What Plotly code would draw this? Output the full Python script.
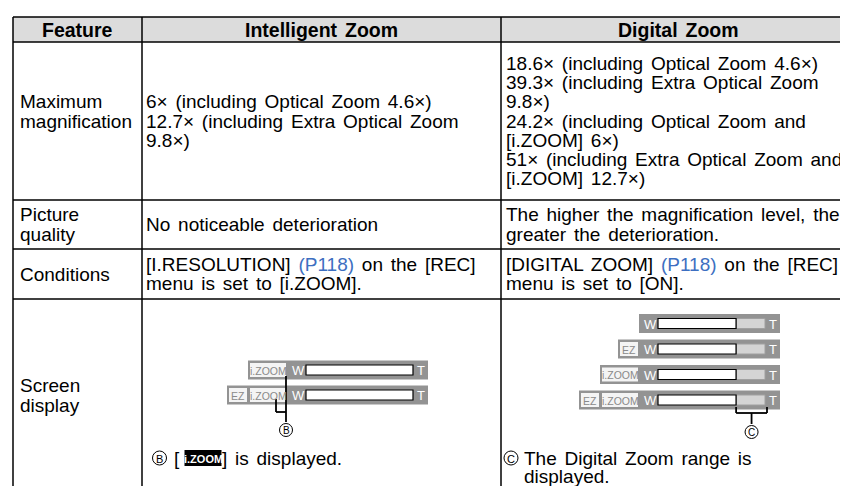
import re
import plotly.graph_objects as go

# ---------------- data ----------------
headers = ["Feature", "Intelligent Zoom", "Digital Zoom"]
features = [["Maximum", "magnification"], ["Picture", "quality"], ["Conditions"], ["Screen", "display"]]
intelligent_text = [
    ["6× (including Optical Zoom 4.6×)", "12.7× (including Extra Optical Zoom", "9.8×)"],
    ["No noticeable deterioration"],
    ["[I.RESOLUTION] {ref} on the [REC]", "menu is set to [i.ZOOM]."],
]
digital_text = [
    ["18.6× (including Optical Zoom 4.6×)", "39.3× (including Extra Optical Zoom", "9.8×)",
     "24.2× (including Optical Zoom and", "[i.ZOOM] 6×)",
     "51× (including Extra Optical Zoom and", "[i.ZOOM] 12.7×)"],
    ["The higher the magnification level, the", "greater the deterioration."],
    ["[DIGITAL ZOOM] {ref} on the [REC]", "menu is set to [ON]."],
]
page_ref = "(P118)"
intelligent_bars = [["i.ZOOM"], ["EZ", "i.ZOOM"]]
digital_bars = [[], ["EZ"], ["i.ZOOM"], ["EZ", "i.ZOOM"]]
digital_range_share = 0.27
marker_b, marker_c = "B", "C"
note_b = ["[", "i.ZOOM", "] is displayed."]
note_c = ["The Digital Zoom range is", "displayed."]

# ---------------- layout constants ----------------
W, H = 848, 486
COL_X = [5, 134, 493, 848]
ROW_Y = [9, 34, 192, 241, 291, 486]
TEXT_X = [12, 137.5, 497.5]
PITCH = 19.3
FS = 19
HFS = 19.5
WS = 2.5
FONT = "Liberation Sans, Arial, DejaVu Sans, sans-serif"
LINK = "#3d6fc1"
STRIP = "#939393"

shapes = []
annotations = []


def fmt(s, bold=False):
    out = []
    for p in re.split(r"(\{ref\})", s):
        if not p:
            continue
        if p == "{ref}":
            out.append(f"<span style='color:{LINK};word-spacing:{WS}px'>{page_ref}</span>")
        else:
            out.append(f"<span style='word-spacing:{WS}px'>{p}</span>")
    res = "".join(out)
    return f"<b>{res}</b>" if bold else res


def txt(x, y, s, size=FS, color="black", xanchor="left", family=FONT):
    annotations.append(dict(x=x, y=y, xref="x", yref="y", text=s, showarrow=False,
                            xanchor=xanchor, yanchor="middle", borderpad=0, borderwidth=0,
                            font=dict(family=family, size=size, color=color)))


def rect(x0, y0, x1, y1, fill=None, line=None, lw=1):
    shapes.append(dict(type="rect", xref="x", yref="y", x0=x0, y0=y0, x1=x1, y1=y1,
                       fillcolor=fill if fill else "rgba(0,0,0,0)",
                       line=dict(color=line if line else "rgba(0,0,0,0)", width=lw if line else 0),
                       layer="above"))


def seg(x0, y0, x1, y1, color="black", w=1.5):
    shapes.append(dict(type="line", xref="x", yref="y", x0=x0, y0=y0, x1=x1, y1=y1,
                       line=dict(color=color, width=w), layer="above"))


def circ(cx, cy, r, letter, size=10):
    shapes.append(dict(type="circle", xref="x", yref="y", x0=cx - r, y0=cy - r, x1=cx + r, y1=cy + r,
                       line=dict(color="black", width=1), fillcolor="white", layer="above"))
    txt(cx, cy + 0.5, letter, size=size, xanchor="center")


# ---------------- table frame ----------------
rect(COL_X[0], ROW_Y[0], W, ROW_Y[1], fill="#dcdcdc")
for y in ROW_Y[:-1]:
    seg(COL_X[0], y, W, y)
for x in COL_X[:-1]:
    seg(x, ROW_Y[0], x, H)

# header
for i, h in enumerate(headers):
    txt((COL_X[i] + COL_X[i + 1]) / 2, (ROW_Y[0] + ROW_Y[1]) / 2 + 0.5, fmt(h, bold=True),
        size=HFS, xanchor="center")


def cell_lines(col, row, lines, shift=0.0):
    yc = (ROW_Y[row + 1] + ROW_Y[row + 2]) / 2 + shift
    n = len(lines)
    for k, s in enumerate(lines):
        txt(TEXT_X[col], yc + (k - (n - 1) / 2) * PITCH, fmt(s))


label_shift = [-PITCH / 2, 0, 0, -1]
for r, lines in enumerate(features):
    cell_lines(0, r, lines, label_shift[r])
for r, lines in enumerate(intelligent_text):
    cell_lines(1, r, lines)
for r, lines in enumerate(digital_text):
    cell_lines(2, r, lines)


# ---------------- zoom bar illustrations ----------------
def zoom_bar(x0, yc, icons, range_share=0.0):
    inner_w = 107
    widths = {"i.ZOOM": 36, "EZ": 18}
    right = x0 - 20
    boxes = []
    for ic in reversed(icons):
        boxes.append((right - widths[ic], right, ic))
        right = right - widths[ic] - 3
    left = min([b[0] for b in boxes], default=x0 - 17) - 2
    rect(left, yc - 9.5, x0 + 122, yc + 9.5, fill=STRIP)
    for bx0, bx1, ic in boxes:
        rect(bx0, yc - 7, bx1, yc + 7, fill="#f4f4f4")
        txt((bx0 + bx1) / 2, yc + 0.5, ic, size=10.5, color="#8a8a8a", xanchor="center")
    txt(x0 - 8, yc + 0.5, "W", size=13, color="white", xanchor="center")
    txt(x0 + 115, yc + 0.5, "T", size=13, color="white", xanchor="center")
    split = x0 + inner_w * (1 - range_share)
    rect(x0, yc - 5, x0 + inner_w, yc + 5, fill="white")
    if range_share > 0:
        rect(split, yc - 5, x0 + inner_w, yc + 5, fill="#d4d4d4", line="#a0a0a0", lw=1)
    rect(x0, yc - 5, split, yc + 5, line="black", lw=1.2)


# intelligent zoom illustration
IX0 = 298
iy = [362, 387]
for yc, icons in zip(iy, intelligent_bars):
    zoom_bar(IX0, yc, icons)
seg(278, iy[0] + 6, 278, 414, w=1.8)
seg(268, iy[1] + 4, 268, 404, w=1.8)
seg(268, 404, 278, 404, w=1.8)
circ(278, 422, 6.5, marker_b)

# digital zoom illustration
DX0 = 650
dy = [315.5, 341, 366.5, 392]
for yc, icons in zip(dy, digital_bars):
    zoom_bar(DX0, yc, icons, digital_range_share)
bx0 = DX0 + 107 * (1 - digital_range_share)
bx1 = DX0 + 109
seg(bx0, 405, bx1, 405, w=1.8)
seg(bx0, 399, bx0, 405, w=1.8)
seg(bx1, 399, bx1, 405, w=1.8)
seg((bx0 + bx1) / 2, 405, (bx0 + bx1) / 2, 416, w=1.8)
circ((bx0 + bx1) / 2, 424, 6.5, marker_c)

# captions
circ(151.5, 450, 7, marker_b, size=11)
txt(166, 450, fmt(note_b[0]))
rect(176.5, 442, 213.5, 458, fill="black")
txt(195, 450.5, f"<b>{note_b[1]}</b>", size=11, color="white", xanchor="center")
txt(214, 450, fmt(note_b[2]))

circ(503, 450, 7, marker_c, size=11)
for k, s in enumerate(note_c):
    txt(516, 450 + k * 18.8, fmt(s))

fig = go.Figure()
fig.update_layout(
    width=W, height=H, margin=dict(l=0, r=0, t=0, b=0),
    paper_bgcolor="white", plot_bgcolor="white",
    xaxis=dict(range=[0, W], visible=False, fixedrange=True),
    yaxis=dict(range=[H, 0], visible=False, fixedrange=True),
    shapes=shapes, annotations=annotations, showlegend=False,
)
fig.write_html("out.html")
